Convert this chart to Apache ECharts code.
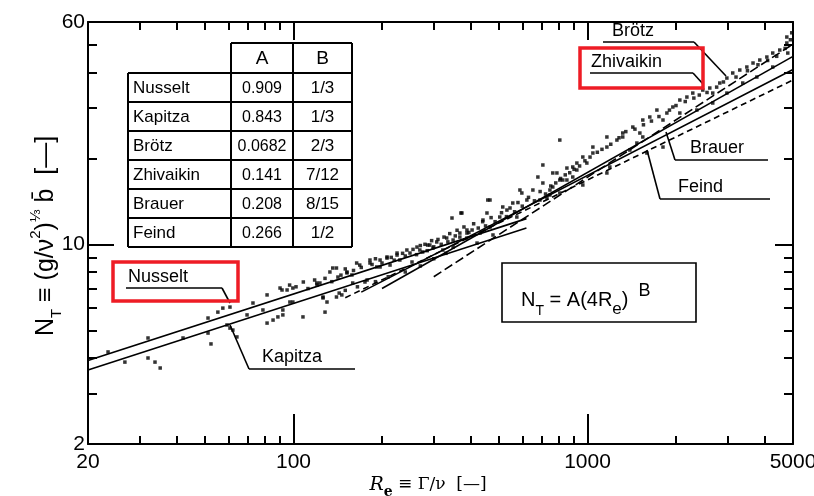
<!DOCTYPE html>
<html><head><meta charset="utf-8">
<script src="https://cdn.jsdelivr.net/npm/echarts@6/dist/echarts.min.js"></script>
<style>html,body{margin:0;padding:0;background:#fff}#c{width:814px;height:496px}</style>
</head><body><div id="c"></div>
<script>
// ---- axes ----
const xMin = 20, xMax = 5000, yMin = 2, yMax = 60;
const xLabelValues = [20, 100, 1000, 5000];
const yLabelValues = [2, 10, 60];
const xMinorTicks = [30, 40, 50, 60, 70, 80, 90, 200, 300, 400, 500, 600, 700, 800, 900, 2000, 3000, 4000];
const xMajorTicks = [100, 1000];
const yMinorTicks = [3, 4, 5, 6, 7, 8, 9, 20, 30, 40, 50];
const yMajorTicks = [10];

// ---- correlation table ----
const correlationNames = ['Nusselt', 'Kapitza', 'Brötz', 'Zhivaikin', 'Brauer', 'Feind'];
const coefA = ['0.909', '0.843', '0.0682', '0.141', '0.208', '0.266'];
const expB = ['1/3', '1/3', '2/3', '7/12', '8/15', '1/2'];

// ---- correlation lines (end points) [Re, N_T] ----
const nusseltLine   = [[20, 3.92], [620, 12.3]];
const kapitzaLine   = [[20, 3.63], [620, 11.4]];
const brotzLine     = [[300, 7.7], [5000, 50.2]];
const zhivaikinLine = [[200, 7.0], [5000, 45.5]];
const brauerLine    = [[170, 6.8], [5000, 40.9]];
const feindLine     = [[150, 6.5], [5000, 37.6]];

// ---- measured points [Re, N_T] ----
const measured = [
 [23.4,4.20],[26.7,3.87],[32.0,4.70],[32.0,4.00],[33.8,3.87],[35.2,3.69],[42.1,4.70],[51.2,5.52],
 [51.2,4.89],[52.4,4.48],[55.3,5.79],[57.5,5.98],[60.8,6.03],[59.4,5.22],[60.8,5.09],[62.2,5.01],
 [64.2,4.74],[69.5,5.66],[72.8,6.23],[78.7,5.89],[81.3,6.65],[81.3,5.30],[85.2,5.43],[88.5,5.57],
 [92.0,5.89],[91.4,6.92],[99.5,7.03],[97.2,6.28],[95.1,6.92],[99.5,6.28],[92.0,5.66],[107.7,5.57],
 [120.2,7.20],[123,7.32],[126,6.54],[130,6.28],[128,5.79],[136,8.26],[141.6,7.68],[146,6.65],
 [152,7.94],[158,7.81],[168,8.46],[175,7.38],[182,8.60],[192,8.33],[197,8.81],[208,9.03],
 [213,8.46],[225,9.32],[230,8.81],[243,9.55],[253,8.67],[263,9.78],[275,9.40],[286,9.94],
 [298,9.70],[307,10.19],[322,9.55],[332,10.52],[346,12.36],[349,9.78],[368,10.95],[374,12.87],
 [389,10.52],[405,11.22],[421,10.10],[431,10.95],[455,12.87],[458,14.29],[466,11.49],[477,10.78],
 [503,12.46],[532,13.18],[557,13.95],[575,12.46],[598,15.12],[622,14.29],[652,15.49],[678,17.20],
 [705,16.39],[728,14.52],[762,15.87],[787,17.77],[824,16.79],[851,18.49],[891,17.20],[920,19.25],
 [705,18.95],[1542,23.75],[1318,23.75],[1164,21.9],[1043,20.87],[995,19.25],[920,18.20],[851,16.79],
 [762,17.77],[745,14.88],[805,15.12],[1191,18.65],[964,16.13],[589,15.49],[466,14.29],[515,13.51],
 [441,12.16],[371,12.87],[389,11.22],[1393,21.38],[1472,22.62],[689,14.29],[745,15.49],[805,16.79],
 [891,18.65],[964,20.21],[1043,21.9],[1164,23.75],[1259,23.17],[1318,24.52],[1426,25.73],[1507,24.52],
 [1542,27.23],[1629,27.90],[1722,29.51],[1806,27.23],[1862,28.81],[1951,30.24],[2061,31.99],[2178,32.77],
 [2281,33.84],[2467,34.67],[2606,35.24],[2667,33.84],[2818,36.69],[2979,38.19],[3119,39.78],[3296,40.74],
 [3483,41.74],[3656,43.11],[3855,44.16],[4074,45.24],[4266,46.72],[4508,47.86],[4764,50.65],[4764,53.16],
 [4800,46.72],[4266,41.74],[3767,38.50],[3373,36.69],[2979,33.84],[2667,31.23],[2355,29.51],[2061,28.81],
 [1806,21.9],[1592,20.87],[805,23.17],[1164,17.77],
 [90,7.03],[97,7.20],[108,7.38],[120,7.32],[133,8.0],[140,8.26],[152,8.0],[164,8.6],[182,8.81],
 [197,8.33],[208,8.95],[225,9.17],[249,9.32],[269,9.55],[291,9.94],[349,10.35],[368,10.6],[389,10.95],
 [159,7.32],[178,7.5],[126,6.49],[140,6.54],[143,6.75],
 [255,9.6],[262,9.2],[270,9.9],[280,10.0],[285,9.5],[295,10.3],[300,9.8],[310,10.4],[318,10.0],
 [325,10.6],[335,10.2],[340,10.9],[355,10.7],[360,11.2],[380,11.5],[395,11.0],[410,11.8],[425,11.4],
 [440,12.0],[450,11.6],[470,12.4],[485,12.0],[510,12.9],[530,12.5],[545,13.4],[565,13.0],[580,14.0],
 [600,13.6],[630,14.6],[660,14.2],[690,15.3],[720,15.0],[750,16.0],[780,16.4],[810,17.0],[840,17.5],
 [870,17.8],[900,18.3],[940,18.8],[980,19.6],[1020,20.2],[1080,21.0],[1120,21.5],[1200,22.4],[1280,23.6],
 [1350,24.8],[1450,25.3],[1550,26.2],[1650,27.0],[1750,28.0],[1900,29.5],[2000,30.6],[2150,31.6],
 [2300,32.5],[2400,33.3],[2550,34.0],[2750,35.5],[2900,37.0],[3200,38.5],[3500,40.5],[3800,42.5],
 [4100,44.0],[4400,45.5],[4700,48.5],[4900,52.0],[4950,55.0],
 [102,7.1],[112,7.0],[118,7.5],[128,7.6],[135,7.4],[145,7.8],[150,8.2],[160,8.1],[170,8.3],[185,8.5],
 [190,8.9],[200,8.6],[215,9.0],[220,8.8],[235,9.3],[240,9.1],
 [150,6.9],[165,7.1],[190,7.4],[210,7.7],[240,8.0],[270,8.4],[300,8.9],[330,9.3]
];

const chart = echarts.init(document.getElementById('c'), null, {renderer: 'canvas'});
const FONT = 'Liberation Sans';
const grid = {left: 88, right: 21, top: 22, bottom: 52, containLabel: false, outerBoundsMode: 'none'};

function xAx(pos, tickVals, len, showLabel, showLine) {
  return {
    type: 'log', logBase: 10, min: xMin, max: xMax, position: pos, gridIndex: 0,
    splitLine: {show: false},
    axisLine: {show: showLine, lineStyle: {color: '#000', width: 2}},
    axisTick: {show: true, inside: true, length: len, customValues: tickVals, lineStyle: {color: '#000', width: 2}},
    axisLabel: showLabel ? {show: true, customValues: xLabelValues, color: '#000', fontFamily: FONT, fontSize: 21, margin: 8,
      formatter: v => String(Math.round(v))} : {show: false},
    minorTick: {show: false}
  };
}
function yAx(pos, tickVals, len, showLabel, showLine) {
  return {
    type: 'log', logBase: 10, min: yMin, max: yMax, position: pos, gridIndex: 0,
    splitLine: {show: false},
    axisLine: {show: showLine, lineStyle: {color: '#000', width: 2}},
    axisTick: {show: true, inside: true, length: len, customValues: tickVals, lineStyle: {color: '#000', width: 2}},
    axisLabel: showLabel ? {show: true, customValues: yLabelValues, color: '#000', fontFamily: FONT, fontSize: 21, margin: 3,
      formatter: v => String(Math.round(v))} : {show: false},
    minorTick: {show: false}
  };
}

function lineSeries(name, data, dash) {
  return {
    name, type: 'line', data, xAxisIndex: 0, yAxisIndex: 0, symbol: 'none', silent: true, z: 3,
    lineStyle: {color: '#000', width: 1.6, type: dash || 'solid'}
  };
}

// table graphics
const tbl = [];
const tL = 128, c1 = 231, c2 = 293, tR = 352, hTop = 43, rowTops = [73, 102, 131, 160, 189, 218, 247];
const ls = {stroke: '#000', lineWidth: 2};
tbl.push({type: 'line', shape: {x1: c1, y1: hTop, x2: tR, y2: hTop}, style: ls});
tbl.push({type: 'line', shape: {x1: c1, y1: hTop, x2: c1, y2: rowTops[6]}, style: ls});
tbl.push({type: 'line', shape: {x1: c2, y1: hTop, x2: c2, y2: rowTops[6]}, style: ls});
tbl.push({type: 'line', shape: {x1: tR, y1: hTop, x2: tR, y2: rowTops[6]}, style: ls});
tbl.push({type: 'line', shape: {x1: tL, y1: rowTops[0], x2: tL, y2: rowTops[6]}, style: ls});
rowTops.forEach(y => tbl.push({type: 'line', shape: {x1: tL, y1: y, x2: tR, y2: y}, style: ls}));
const tFont = {fill: '#000', fontFamily: FONT, fontSize: 17};
tbl.push({type: 'text', x: (c1 + c2) / 2, y: (hTop + rowTops[0]) / 2 + 1, style: Object.assign({text: 'A', align: 'center', verticalAlign: 'middle'}, tFont, {fontSize: 19})});
tbl.push({type: 'text', x: (c2 + tR) / 2, y: (hTop + rowTops[0]) / 2 + 1, style: Object.assign({text: 'B', align: 'center', verticalAlign: 'middle'}, tFont, {fontSize: 19})});
correlationNames.forEach((n, i) => {
  const cy = (rowTops[i] + rowTops[i + 1]) / 2 + 1;
  tbl.push({type: 'text', x: tL + 5, y: cy, style: Object.assign({text: n, align: 'left', verticalAlign: 'middle'}, tFont)});
  tbl.push({type: 'text', x: (c1 + c2) / 2, y: cy, style: Object.assign({text: coefA[i], align: 'center', verticalAlign: 'middle'}, tFont, {fontSize: 16})});
  tbl.push({type: 'text', x: (c2 + tR) / 2, y: cy, style: Object.assign({text: expB[i], align: 'center', verticalAlign: 'middle'}, tFont)});
});

// annotations: label, underline, leader
function ann(text, tx, ty, ux1, ux2, uy, lx, ly, leaderFrom) {
  const out = [];
  out.push({type: 'text', x: tx, y: ty, style: {text, fill: '#000', fontFamily: FONT, fontSize: 18, align: 'left', verticalAlign: 'bottom'}});
  out.push({type: 'line', shape: {x1: ux1, y1: uy, x2: ux2, y2: uy}, style: {stroke: '#000', lineWidth: 1.6}});
  const fx = leaderFrom === 'left' ? ux1 : ux2;
  out.push({type: 'line', shape: {x1: fx, y1: uy, x2: lx, y2: ly}, style: {stroke: '#000', lineWidth: 1.6}});
  return out;
}
const anns = [].concat(
  ann('Nusselt', 128, 286, 126, 222, 288, 230, 303, 'right'),
  ann('Kapitza', 262, 366, 249, 355, 369, 230, 325, 'left'),
  ann('Brötz', 612, 40, 603, 694, 42, 726, 76, 'right'),
  ann('Zhivaikin', 591, 71, 590, 693, 73, 703, 84, 'right'),
  ann('Brauer', 690, 157, 675, 768, 160, 666, 132, 'left'),
  ann('Feind', 678, 196, 660, 770, 199, 647, 150, 'left')
);
const redBoxes = [
  {type: 'rect', shape: {x: 113, y: 262, width: 125, height: 39}, style: {fill: 'none', stroke: '#ee1c25', lineWidth: 3.5}, z: 100},
  {type: 'rect', shape: {x: 580, y: 48, width: 123, height: 40}, style: {fill: 'none', stroke: '#ee1c25', lineWidth: 3.5}, z: 100}
];
const formulaBox = [
  {type: 'rect', shape: {x: 502, y: 263, width: 194, height: 59}, style: {fill: 'none', stroke: '#000', lineWidth: 1.6}},
  {type: 'text', x: 521, y: 300, style: {
    text: '{n|N}{sub|T}{n| = A(4R}{sub2|e}{n|)}{sup|B}', verticalAlign: 'middle', align: 'left',
    rich: {
      n: {fontFamily: FONT, fontSize: 20, fill: '#000', lineHeight: 36},
      sub: {fontFamily: FONT, fontSize: 14, fill: '#000', lineHeight: 22, verticalAlign: 'bottom'},
      sub2: {fontFamily: FONT, fontSize: 17, fill: '#000', lineHeight: 22, verticalAlign: 'bottom'},
      sup: {fontFamily: FONT, fontSize: 18, fill: '#000', lineHeight: 18, verticalAlign: 'top', padding: [0, 0, 0, 10]}
    }}}
];
const titles = [
  {type: 'text', x: 46, y: 236, rotation: Math.PI / 2, style: {
    text: '{n|N}{sub|T}{n| ≡ (g/ν}{sup|2}{n|)}{sup|⅓}{n| b̄  [—]}', align: 'center', verticalAlign: 'middle',
    rich: {
      n: {fontFamily: FONT, fontSize: 25, fill: '#000', lineHeight: 36},
      sub: {fontFamily: FONT, fontSize: 15, fill: '#000', lineHeight: 22, verticalAlign: 'bottom'},
      sup: {fontFamily: FONT, fontSize: 15, fill: '#000', lineHeight: 18, verticalAlign: 'top'}
    }}},
  {type: 'text', x: 428, y: 485, style: {
    text: '{r|R}{sub|e}{n| ≡ Γ/ν  [—]}', align: 'center', verticalAlign: 'middle',
    rich: {
      r: {fontFamily: 'DejaVu Serif', fontStyle: 'italic', fontSize: 19, fill: '#000', lineHeight: 28},
      n: {fontFamily: 'DejaVu Serif', fontSize: 17, fill: '#000', lineHeight: 28},
      sub: {fontFamily: 'DejaVu Serif', fontWeight: 'bold', fontSize: 14, fill: '#000', lineHeight: 18, verticalAlign: 'bottom'}
    }}}
];

chart.setOption({
  animation: false,
  backgroundColor: '#fff',
  grid,
  xAxis: [
    xAx('bottom', xMinorTicks, 8, true, true),
    xAx('bottom', xMajorTicks, 30, false, false),
    xAx('top', xMinorTicks, 8, false, true),
    xAx('top', xMajorTicks, 18, false, false)
  ],
  yAxis: [
    yAx('left', yMinorTicks, 9, true, true),
    yAx('left', yMajorTicks, 26, false, false),
    yAx('right', yMinorTicks, 9, false, true),
    yAx('right', yMajorTicks, 18, false, false)
  ],
  series: [
    {type: 'scatter', data: measured, xAxisIndex: 0, yAxisIndex: 0, symbol: 'rect', symbolSize: 3.5,
     itemStyle: {color: '#000'}, silent: true, z: 2},
    lineSeries('Nusselt', nusseltLine),
    lineSeries('Kapitza', kapitzaLine),
    lineSeries('Brötz', brotzLine, [9, 4]),
    lineSeries('Zhivaikin', zhivaikinLine),
    lineSeries('Brauer', brauerLine),
    lineSeries('Feind', feindLine, [6, 4])
  ],
  graphic: {elements: [].concat(tbl, anns, formulaBox, titles, redBoxes)}
});
</script>
</body></html>
